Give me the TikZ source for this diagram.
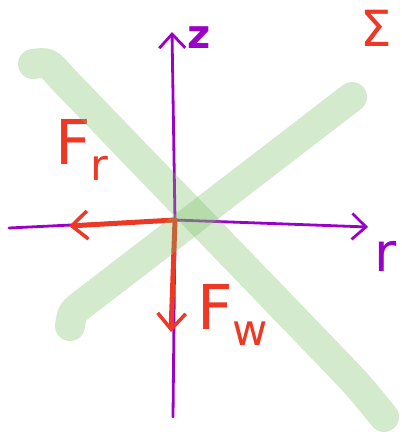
\documentclass[tikz,border=0pt]{standalone}
\usepackage{fontspec}
\setmainfont{DejaVu Sans}
\usetikzlibrary{arrows.meta}
\definecolor{axispurple}{RGB}{155,0,200}
\definecolor{forcered}{RGB}{236,56,36}
\definecolor{bandgreen}{RGB}{120,190,100}

\begin{document}
\begin{tikzpicture}[
  x=1bp, y=-1bp,
  axis/.style={draw=axispurple, line width=2.8bp, line cap=round, -{Straight Barb[length=14bp, width=26bp, line width=2.8bp]}},
  force/.style={draw=forcered, line width=5bp, line cap=round, -{Straight Barb[length=16bp, width=28bp, line width=3.5bp]}},
  band/.style={draw=bandgreen, line width=30bp, line cap=round, opacity=0.32},
  label/.style={inner sep=0pt, font=\fontsize{50}{50}\selectfont}
]
\useasboundingbox (0,0) rectangle (401,435);
\coordinate (o) at (175,220);
\coordinate (zbot) at (173,417);
\coordinate (ztop) at (172,32);
\coordinate (rleft) at (9,228);
\coordinate (rright) at (368,227);
\coordinate (frtip) at (69,226);
\coordinate (fwtip) at (171,332);
\draw[axis] (zbot) -- (o) -- (ztop);
\draw[axis] (rleft) -- (o) -- (rright);
\draw[force] (o) -- (frtip);
\draw[force] (o) -- (fwtip);
\node[label, text=axispurple, font=\fontsize{40}{40}\bfseries\selectfont] (zlab) at (199,38) {z};
\node[label, text=axispurple, font=\fontsize{54}{54}\selectfont] (rlab) at (386,256) {r};
\node[label, text=forcered] (sigma) at (376,28) {Σ};
\node[label, text=forcered, font=\fontsize{62}{62}\selectfont] (frlab) at (82,150) {F\textsubscript{r}};
\node[label, text=forcered, font=\fontsize{62}{62}\selectfont] (fwlab) at (233,315) {F\textsubscript{w}};
% the two thick green strokes
\draw[band] (33,64) .. controls (48,62) .. (62,78) -- (330,356) .. controls (358,385) .. (384,417);
\draw[band] (70,326) .. controls (72,312) .. (88,300) -- (352,97);
\end{tikzpicture}
\end{document}
